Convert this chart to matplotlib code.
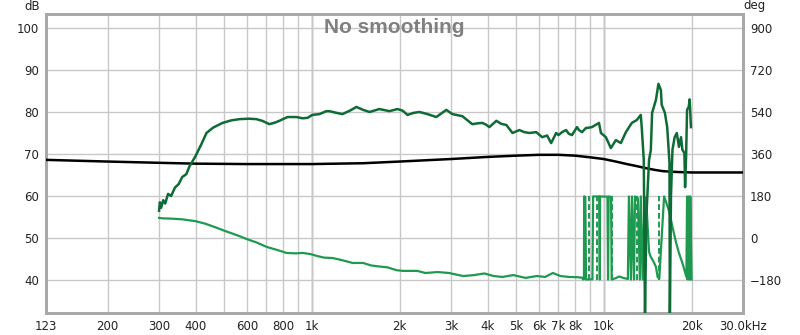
import matplotlib.pyplot as plt
import numpy as np

# magnitude trace [Hz], [dB]
mag_hz = [300, 302, 305, 310, 315, 322, 330, 340, 350, 360, 372, 381, 400, 420, 436,
          460, 495, 530, 566, 610, 646, 677, 716, 750, 775, 826, 886, 930, 967, 1005,
          1063, 1123, 1149, 1214, 1274, 1350, 1422, 1500, 1578, 1705, 1845, 1967, 2050,
          2128, 2238, 2338, 2491, 2671, 2890, 3032, 3280, 3548, 3700, 3840, 3950, 4059,
          4290, 4450, 4641, 4871, 5141, 5350, 5562, 5875, 6159, 6400, 6606, 6872, 7000,
          7200, 7430, 7600, 7789, 8102, 8229, 8426, 8695, 8763, 9117, 9634, 9785, 10173,
          10580, 11006, 11450, 11911, 12484, 12987, 13397, 13503, 13717, 13850, 14000,
          14300, 14500, 14650, 15100, 15400, 15700, 15800, 16200, 16500, 16800, 16850,
          17000, 17200, 17500, 17800, 18100, 18400, 18600, 18900, 19000, 19150, 19300,
          19550, 19700, 19900]
mag_db = [56.5, 58.5, 57.2, 59.0, 58.2, 60.5, 60.0, 62.0, 62.8, 64.5, 65.2, 67.0, 69.5, 72.5, 75.0,
          76.3, 77.4, 78.0, 78.3, 78.4, 78.3, 77.9, 77.1, 77.5, 77.9, 78.8, 78.8, 78.5, 78.6, 79.3,
          79.5, 80.2, 80.2, 79.8, 79.5, 80.3, 81.2, 80.5, 80.0, 80.7, 80.2, 80.7, 80.3,
          79.3, 79.8, 80.0, 79.5, 78.8, 80.5, 79.5, 79.0, 77.1, 77.3, 77.4, 77.0, 76.4,
          77.9, 77.2, 76.9, 75.0, 75.7, 75.2, 75.0, 75.2, 74.0, 74.4, 72.6, 75.0, 74.5,
          75.2, 75.7, 74.8, 74.5, 76.4, 75.7, 75.2, 76.2, 76.2, 76.4, 77.4, 75.0, 74.0,
          71.4, 73.3, 72.6, 75.2, 77.4, 78.1, 79.3, 76.2, 68.6, 31.0, 55.0,
          68.6, 70.9, 79.8, 82.9, 86.7, 85.2, 81.7, 79.8, 76.4, 67.9, 31.0,
          60.0, 71.0, 74.0, 75.0, 71.7, 74.0, 71.0, 70.2, 62.1, 69.3, 80.5,
          81.2, 83.0, 76.4]

# phase trace [Hz], [deg]
ph_hz = [300, 310, 330, 360, 400, 430, 470, 500, 560, 600, 650, 700, 760, 820, 880, 930,
         990, 1050, 1100, 1180, 1260, 1380, 1500, 1600, 1700, 1820, 1950, 2050, 2300, 2450,
         2700, 2950, 3300, 3600, 3900, 4200, 4500, 4900, 5400, 5900, 6300, 6700, 7100, 7600,
         8100, 8430, 8500, 8560, 8570, 8650, 8700, 9150, 9200, 9650, 9700, 9720, 10300,
         10350, 10400, 10600, 10650, 11000, 11300, 11600, 12100, 12200, 12400, 12500,
         12700, 12800, 13100, 13300, 13400, 13600, 13800, 14000, 14300, 14500, 14800,
         15100, 15300, 15500, 16100, 16400, 16800, 17200, 17700, 18100, 18600, 19200,
         19300, 19450, 19550, 19700, 19800, 20000]
ph_deg = [86, 84, 83, 80, 72, 62, 45, 32, 10, -5, -20, -38, -51, -64, -66, -64,
          -69, -78, -84, -86, -94, -107, -107, -118, -122, -126, -138, -141, -141, -150,
          -146, -150, -163, -159, -152, -163, -167, -159, -171, -163, -167, -150, -163, -167,
          -168, -170, -178, -176, 178, 176, -178, -177, 178, 178, -178, 178, 177,
          -178, 178, 176, -178, -172, -165, -170, -176, 178, -178, 178,
          -178, 178, 170, -178, 178, -178, 176, 150, -60, -81, -100,
          -124, -167, -175, 178, 150, 110, 47, -20, -64, -107, -167,
          178, -178, 178, -178, 178, -178]
# phase wrap markers [Hz]
wrap_hz = [8930, 9520, 10700, 13000, 15500, 19300]

# black reference trace [Hz], [dB]
ref_hz = [123, 200, 300, 400, 600, 1000, 1500, 2000, 3000, 4000, 5000, 6000, 7000, 8000,
          9000, 10000, 11000, 12000, 13000, 14000, 15000, 16000, 18000, 20000, 25000, 30000]
ref_db = [68.6, 68.2, 67.9, 67.7, 67.6, 67.6, 67.8, 68.2, 68.8, 69.3, 69.6, 69.8, 69.8, 69.6,
          69.2, 68.8, 68.2, 67.6, 67.1, 66.6, 66.2, 65.9, 65.7, 65.6, 65.6, 65.6]

x_ticks = [123, 200, 300, 400, 600, 800, 1000, 2000, 3000, 4000, 5000, 6000, 7000, 8000,
           10000, 20000, 30000]
x_labels = ['123', '200', '300', '400', '600', '800', '1k', '2k', '3k', '4k', '5k', '6k',
            '7k', '8k', '10k', '20k', '30.0kHz']
x_grid_extra = [500, 700, 900, 9000]
db_ticks = [40, 50, 60, 70, 80, 90, 100]
deg_ticks = [-180, 0, 180, 360, 540, 720, 900]

plt.rcParams['font.family'] = 'DejaVu Sans'
plt.rcParams['font.size'] = 8.5

fig = plt.figure(figsize=(8, 3.35), dpi=100)
ax = fig.add_axes([46/800, 1-313/335, (743-46)/800, (313-14)/335])
ax2 = ax.twinx()

y_lo, y_hi = 32.14, 103.33
ax.set_xscale('log')
ax.set_xlim(123, 30000)
ax.set_ylim(y_lo, y_hi)
# phase axis: 10 dB = 180 deg, 50 dB = 0 deg
ax2.set_ylim((y_lo-50)*18, (y_hi-50)*18)

ax.set_xticks(x_ticks)
ax.set_xticklabels(x_labels)
ax.set_xticks(x_grid_extra, minor=True)
ax.set_yticks(db_ticks)
ax2.set_yticks(deg_ticks)
ax.tick_params(which='both', length=0, colors='#222222', pad=5)
ax2.tick_params(length=0, colors='#222222', pad=5)
ax.grid(True, which='both', color='#c8c8c8', lw=1)
for f in [1000, 10000]:
    ax.axvline(f, color='#8a8a8a', lw=1, zorder=0.5)
ax.set_axisbelow(True)

for sp in list(ax.spines.values()) + list(ax2.spines.values()):
    sp.set_color('#a8a8a8')
    sp.set_linewidth(2)

# phase, with dashed wrap markers
for f in wrap_hz:
    ax2.plot([f, f], [-180, 180], color='#1e9a50', lw=1.4, ls=(0, (3, 1.5)), zorder=2)
ax2.plot(ph_hz, ph_deg, color='#1e9a50', lw=1.6, zorder=2)
ax2.plot(ref_hz, [(v-50)*18 for v in ref_db], color='black', lw=1.8, zorder=3)
ax2.plot(mag_hz, [(v-50)*18 for v in mag_db], color='#0f6b35', lw=1.8, zorder=4)

ax.text(0.5, 0.955, 'No smoothing', transform=ax.transAxes, ha='center', va='center',
        fontsize=15, fontweight='bold', color='#808080', family='Liberation Sans')
fig.text(32/800, 1-7/335, 'dB', ha='center', va='center', color='#222222')
fig.text(755/800, 1-6/335, 'deg', ha='center', va='center', color='#222222')

fig.savefig('out.png', dpi=100)
